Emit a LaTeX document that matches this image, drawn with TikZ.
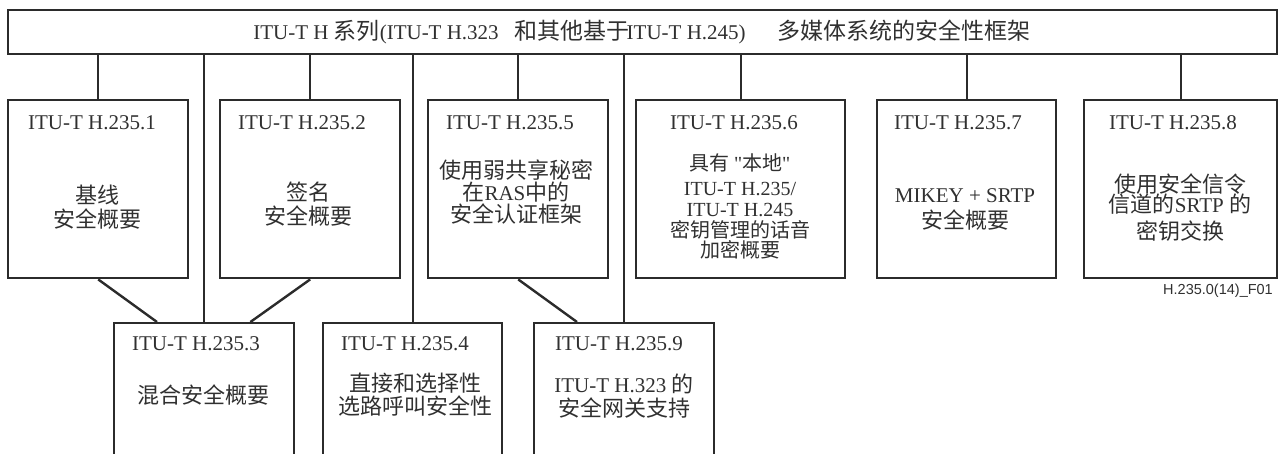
\documentclass[tikz,border=0pt]{standalone}
\usepackage{fontspec}
\setmainfont{Liberation Serif}
\setsansfont{Liberation Sans}
\newfontfamily\cjk{Noto Sans CJK SC}
\newfontfamily\qfont[Ligatures=TeXOff]{Liberation Serif}
\usetikzlibrary{calc}
\definecolor{lc}{HTML}{2B2B2B}
\definecolor{tc}{HTML}{303030}
\newcommand\lt[1]{{\rmfamily\fontsize{21}{24}\selectfont #1}}
\newcommand\ls[1]{{\rmfamily\fontsize{20}{22}\selectfont #1}}
\newcommand\qq{{\qfont\fontsize{20}{22}\selectfont\symbol{"22}}}
\begin{document}
\begin{tikzpicture}[x=1pt,y=-1pt,
  box/.style={draw=lc, line width=2.4pt, rectangle, inner sep=0pt, anchor=north west},
  title/.style={font=\rmfamily\fontsize{21}{24}\selectfont, text=tc, inner sep=0pt},
  body/.style={font=\cjk\fontsize{22}{24}\selectfont, text=tc, align=center, inner sep=0pt},
  link/.style={draw=lc, line width=2.4pt}]
\useasboundingbox (0,0) rectangle (1280,454);
\begin{scope}
\clip (0,0) rectangle (1280,454);
% boxes
\node[box, minimum width=1269pt, minimum height=44pt] (top) at (7,9) {};
\node[box, minimum width=180pt, minimum height=178pt] (b1) at (7,99) {};
\node[box, minimum width=180pt, minimum height=178pt] (b2) at (219,99) {};
\node[box, minimum width=180pt, minimum height=178pt] (b5) at (427,99) {};
\node[box, minimum width=209pt, minimum height=178pt] (b6) at (635,99) {};
\node[box, minimum width=179pt, minimum height=178pt] (b7) at (876,99) {};
\node[box, minimum width=193pt, minimum height=178pt] (b8) at (1083,99) {};
\node[box, minimum width=180pt, minimum height=170pt] (b3) at (113,322) {};
\node[box, minimum width=179pt, minimum height=170pt] (b4) at (322,322) {};
\node[box, minimum width=180pt, minimum height=170pt] (b9) at (533,322) {};
% top title
\node[body, font=\cjk\fontsize{23}{24}\selectfont] (toptext) at (642,32) {\lt{ITU-T H }系列\lt{(ITU-T H.323}\hspace{16pt}和其他基于\hspace{-3pt}\lt{ITU-T H.245)}\hspace{32pt}多媒体系统的安全性框架};
% titles
\node[title] (t1) at (92,123) {ITU-T H.235.1};
\node[title] (t2) at (302,123) {ITU-T H.235.2};
\node[title] (t5) at (510,123) {ITU-T H.235.5};
\node[title] (t6) at (734,123) {ITU-T H.235.6};
\node[title] (t7) at (958,123) {ITU-T H.235.7};
\node[title] (t8) at (1173,123) {ITU-T H.235.8};
\node[title] (t3) at (196,344) {ITU-T H.235.3};
\node[title] (t4) at (405,344) {ITU-T H.235.4};
\node[title] (t9) at (619,344) {ITU-T H.235.9};
% bodies
\node[body] (d1) at (97,207) {基线\\安全概要};
\node[body] (d2) at (308,204) {签名\\安全概要};
\node[body] (d5) at (516,192) {使用弱共享秘密\\[-2pt]在\lt{RAS}中的\\[-2pt]安全认证框架};
\node[body, font=\cjk\fontsize{20}{22}\selectfont] (d6) at (740,206.5) {具有 \qq 本地\qq\\[3pt]\ls{ITU-T H.235/}\\[-1pt]\ls{ITU-T H.245}\\[-1pt]密钥管理的话音\\[-2pt]加密概要};
\node[body] (d7) at (965,209) {\lt{MIKEY + SRTP}\\[2pt]安全概要};
\node[body] (d8) at (1180,208) {使用安全信令\\[-4pt]信道的\lt{SRTP }的\\[3pt]密钥交换};
\node[body] (d3) at (203,395) {混合安全概要};
\node[body] (d4) at (415,395) {直接和选择性\\[-1pt]选路呼叫安全性};
\node[body] (d9) at (624,396) {\lt{ITU-T H.323 }的\\安全网关支持};
\node[anchor=east, font=\sffamily\fontsize{14.5}{15}\selectfont, text=tc, inner sep=0pt] (fig) at (1273,291) {H.235.0(14)\_F01};
% connectors
\foreach \b in {b1,b2,b5,b6,b7,b8,b3,b4,b9}{
  \draw[link] (\b.north |- top.south) -- (\b.north);
}
\draw[link] (b1.south) -- ($(b3.north west)+(44,0)$);
\draw[link] (b2.south) -- ($(b3.north east)+(-45,0)$);
\draw[link] (b5.south) -- ($(b9.north west)+(44,0)$);
\end{scope}
\end{tikzpicture}
\end{document}
